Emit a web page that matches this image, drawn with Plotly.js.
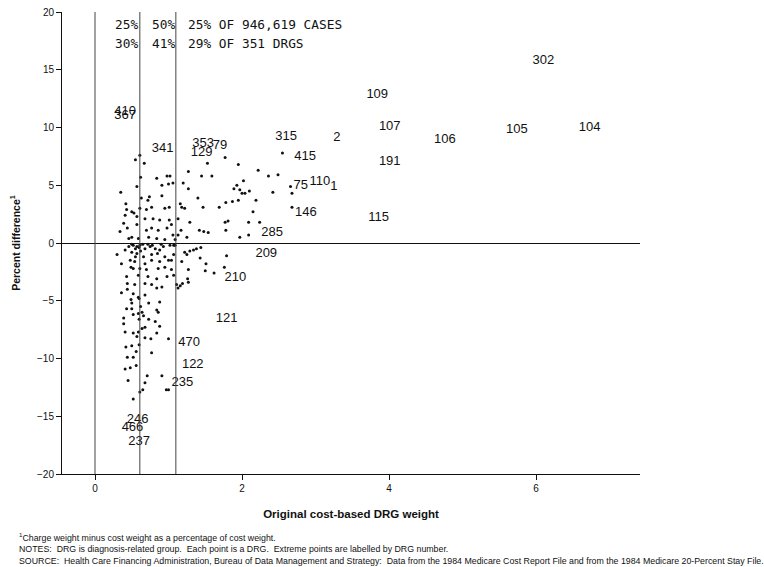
<!DOCTYPE html>
<html>
<head>
<meta charset="utf-8">
<script src="https://cdn.plot.ly/plotly-3.0.1.min.js"></script>
<style>
  html, body { margin: 0; padding: 0; background: #fff; }
  #chart { width: 764px; height: 567px; }
</style>
</head>
<body>
<div id="chart"></div>
<script>
  // unlabelled DRGs: original cost-based weight vs percent difference
  var drgWeight = [
    0.61, 0.55, 0.67, 0.62, 0.84, 0.98, 1.02, 0.91, 1.00, 1.06, 1.27, 1.20, 1.27, 0.35, 0.57, 0.63,
    0.74, 0.91, 0.42, 0.43, 0.50, 0.61, 0.70, 0.77, 0.95, 1.01, 1.16, 1.18, 1.22, 1.40, 1.47, 0.41,
    0.57, 0.68, 0.79, 0.88, 1.01, 1.13, 1.29, 0.39, 0.44, 0.34, 0.46, 0.57, 0.70, 0.77, 0.86, 0.98,
    1.04, 1.17, 0.59, 0.73, 0.84, 0.95, 1.09, 1.25, 1.06, 1.13, 0.50, 0.72, 0.53,
    1.53, 1.77, 1.95, 2.22, 2.36, 2.49, 2.55, 1.45, 1.59, 2.02, 1.93, 1.89, 1.97, 2.00, 2.04, 2.10,
    2.42, 2.66, 2.68, 1.69, 1.78, 1.87, 1.95, 2.19, 2.15, 2.68, 1.77, 1.81, 2.09, 2.24, 1.42, 1.48,
    1.54, 1.78, 1.97, 2.09,
    0.52, 0.57, 0.61, 0.68, 0.75, 0.82, 0.88, 0.93, 1.02, 1.07, 0.30, 0.41, 0.50, 0.57, 0.55, 0.66,
    0.77, 0.85, 0.95, 1.07, 1.22, 1.25, 1.34, 0.36, 0.48, 0.54, 0.68, 0.77, 0.88, 1.00, 1.18, 0.49,
    0.52, 0.61, 0.70, 0.86, 0.95, 1.04, 0.43, 0.59, 0.72, 0.84, 0.98, 1.07, 0.44, 0.54, 0.68, 0.77,
    0.91, 1.11, 1.19, 1.27, 0.50, 0.60, 0.65, 0.72, 0.78, 0.90, 1.09, 0.55, 0.62, 0.46, 1.04,
    0.36, 0.52, 0.59, 0.68, 0.88, 0.50, 0.73, 0.86,
    0.43, 0.50, 0.39, 0.39, 0.52, 0.59, 0.64, 0.73, 0.68, 0.82, 0.88, 0.59, 0.52, 0.41, 0.84, 0.68,
    0.76, 1.00, 0.42, 0.50, 0.60, 0.56, 0.77, 0.44, 0.52, 0.41, 0.48, 0.56, 0.71, 0.68, 0.91, 0.45,
    0.61, 0.65, 0.97, 1.00, 0.52, 0.44, 0.84, 0.49, 0.60, 0.84, 0.60, 0.64, 0.57, 0.66, 0.62,
    1.29, 1.38, 1.44, 1.43, 1.51, 1.62, 1.76, 1.79, 1.27, 1.26, 1.16, 1.13, 1.50
  ];
  var pctDiff = [
    7.6, 7.2, 6.9, 5.7, 5.6, 5.8, 5.8, 5.0, 5.1, 5.2, 6.2, 5.2, 4.7, 4.4, 4.9, 3.9,
    4.0, 4.1, 3.4, 2.9, 2.7, 3.0, 2.9, 3.1, 3.0, 3.1, 3.4, 3.1, 3.0, 3.9, 3.1, 2.4,
    2.3, 2.1, 2.1, 2.0, 2.0, 2.1, 1.8, 1.7, 1.3, 1.0, 0.4, 1.6, 1.1, 1.3, 1.1, 1.3,
    1.6, 1.1, 0.4, 0.5, 0.4, 0.3, 0.3, 0.5, 0.7, 0.7, 0.5, 3.7, 2.6,
    6.9, 7.4, 6.8, 6.3, 5.8, 5.9, 7.8, 5.8, 5.8, 5.4, 5.0, 4.7, 4.6, 4.3, 4.3, 4.5,
    4.4, 4.9, 4.3, 3.1, 3.5, 3.6, 3.7, 3.7, 2.7, 3.1, 1.8, 1.9, 1.8, 1.8, 1.1, 1.0,
    0.9, 1.1, 0.5, 0.7,
    -0.2, -0.3, -0.2, -0.5, -0.3, -0.5, -0.6, -0.3, -0.2, -0.2, -1.0, -0.6, -0.8, -0.9, -1.2, -1.2,
    -1.0, -0.9, -1.2, -1.0, -0.8, -1.0, -0.6, -1.8, -1.5, -1.6, -1.8, -1.5, -1.6, -1.5, -1.6, -2.1,
    -2.2, -2.2, -2.3, -2.2, -2.1, -2.3, -2.9, -2.8, -2.9, -3.1, -2.9, -2.8, -3.5, -3.6, -3.5, -3.6,
    -3.8, -3.6, -3.5, -3.4, -0.1, -0.4, -0.1, -0.1, -0.2, -0.1, -0.2, -0.5, -0.7, -0.3, -1.5,
    -4.3, -4.4, -4.7, -4.5, -5.1, -5.2, -5.2, -6.0,
    -5.7, -5.7, -6.5, -7.0, -6.2, -6.1, -6.0, -6.6, -7.3, -6.8, -7.2, -7.7, -7.8, -7.7, -7.8, -8.2,
    -8.3, -8.3, -9.0, -8.9, -8.8, -9.4, -9.5, -9.9, -9.9, -10.9, -10.8, -10.6, -11.5, -12.1, -11.5, -11.9,
    -12.9, -12.7, -12.7, -12.7, -13.5, -4.0, -3.9, -4.9, -4.8, -5.8, -6.6, -7.4, -8.1, -6.3, -5.5,
    -0.7, -0.5, -0.4, -1.3, -1.8, -2.6, -2.1, -1.1, -2.3, -3.1, -3.7, -3.9, -2.4
  ];

  // extreme DRGs, drawn as their DRG number
  var labelDrg = ['302', '109', '107', '106', '105', '104', '2', '315', '415', '191', '75', '110', '1',
    '146', '115', '285', '209', '210', '121', '470', '122', '235', '246', '466', '237',
    '410', '367', '341', '353', '79', '129'];
  var labelWeight = [6.10, 3.84, 4.01, 4.76, 5.74, 6.73, 3.29, 2.60, 2.86, 4.01, 2.80, 3.06, 3.25,
    2.87, 3.86, 2.41, 2.33, 1.91, 1.79, 1.28, 1.33, 1.19, 0.58, 0.51, 0.60,
    0.41, 0.41, 0.92, 1.47, 1.70, 1.45];
  var labelPct = [15.8, 12.8, 10.1, 8.9, 9.8, 10.0, 9.1, 9.2, 7.5, 7.0, 5.0, 5.3, 4.9,
    2.6, 2.2, 0.9, -0.95, -3.0, -6.6, -8.6, -10.5, -12.1, -15.3, -16.0, -17.2,
    11.4, 11.0, 8.2, 8.6, 8.4, 7.8];

  // case / DRG split at the two dividing weights
  var splitWeights = [0, 0.61, 1.10];
  var caseShares = ['25%', '50%', '25% OF 946,619 CASES'];
  var drgShares = ['30%', '41%', '29% OF 351 DRGS'];

  var traceDots = {
    type: 'scatter',
    mode: 'markers',
    x: drgWeight,
    y: pctDiff,
    marker: { color: '#111', size: 3 },
    hoverinfo: 'x+y',
    showlegend: false
  };
  var traceLabels = {
    type: 'scatter',
    mode: 'text',
    x: labelWeight,
    y: labelPct,
    text: labelDrg,
    textposition: 'middle center',
    textfont: { family: 'Liberation Sans, Arial, sans-serif', size: 13, color: '#111' },
    showlegend: false
  };

  var shapes = splitWeights.map(function (w) {
    return {
      type: 'line', xref: 'x', yref: 'y', x0: w, x1: w, y0: -20, y1: 20,
      line: { color: '#444', width: 1 }
    };
  });

  var textCols = [0.245, 0.748, 1.238];
  var annotations = [];
  caseShares.forEach(function (t, i) {
    annotations.push({ x: textCols[i], y: 18.9, xref: 'x', yref: 'y', text: t, showarrow: false,
      xanchor: 'left', font: { family: 'DejaVu Sans Mono, monospace', size: 12.8, color: '#111' } });
  });
  drgShares.forEach(function (t, i) {
    annotations.push({ x: textCols[i], y: 17.25, xref: 'x', yref: 'y', text: t, showarrow: false,
      xanchor: 'left', font: { family: 'DejaVu Sans Mono, monospace', size: 12.8, color: '#111' } });
  });

  var noteFont = { family: 'Liberation Sans, Arial, sans-serif', size: 8.8, color: '#111' };
  var notes = [
    '<sup>1</sup>Charge weight minus cost weight as a percentage of cost weight.',
    'NOTES:  DRG is diagnosis-related group.  Each point is a DRG.  Extreme points are labelled by DRG number.',
    'SOURCE:  Health Care Financing Administration, Bureau of Data Management and Strategy:  Data from the 1984 Medicare Cost Report File and from the 1984 Medicare 20-Percent Stay File.'
  ];
  var noteY = [-0.136, -0.162, -0.188];
  notes.forEach(function (t, i) {
    annotations.push({ x: -0.078, y: noteY[i], xref: 'paper', yref: 'paper', text: t, showarrow: false,
      xanchor: 'left', yanchor: 'middle', align: 'left', font: noteFont });
  });

  var layout = {
    width: 764,
    height: 567,
    margin: { l: 62, r: 124, t: 12, b: 93 },
    paper_bgcolor: '#fff',
    plot_bgcolor: '#fff',
    font: { family: 'Liberation Sans, Arial, sans-serif', color: '#111' },
    xaxis: {
      range: [-0.449, 7.415],
      tickvals: [0, 2, 4, 6],
      ticks: 'outside', ticklen: 5, tickcolor: '#111',
      showline: true, linecolor: '#111', linewidth: 1,
      showgrid: false, zeroline: false,
      tickfont: { size: 10 },
      title: { text: 'Original cost-based DRG weight', standoff: 16,
        font: { size: 11.5, weight: 'bold' } }
    },
    yaxis: {
      range: [-20, 20],
      tickvals: [-20, -15, -10, -5, 0, 5, 10, 15, 20],
      ticks: 'outside', ticklen: 5, tickcolor: '#111',
      showline: true, linecolor: '#111', linewidth: 1,
      showgrid: false,
      zeroline: true, zerolinecolor: '#111', zerolinewidth: 1,
      tickfont: { size: 10 },
      title: { text: 'Percent difference<sup>1</sup>', standoff: 14,
        font: { size: 10.5, weight: 'bold' } }
    },
    shapes: shapes,
    annotations: annotations
  };

  Plotly.newPlot('chart', [traceDots, traceLabels], layout, { displayModeBar: false });
</script>
</body>
</html>
